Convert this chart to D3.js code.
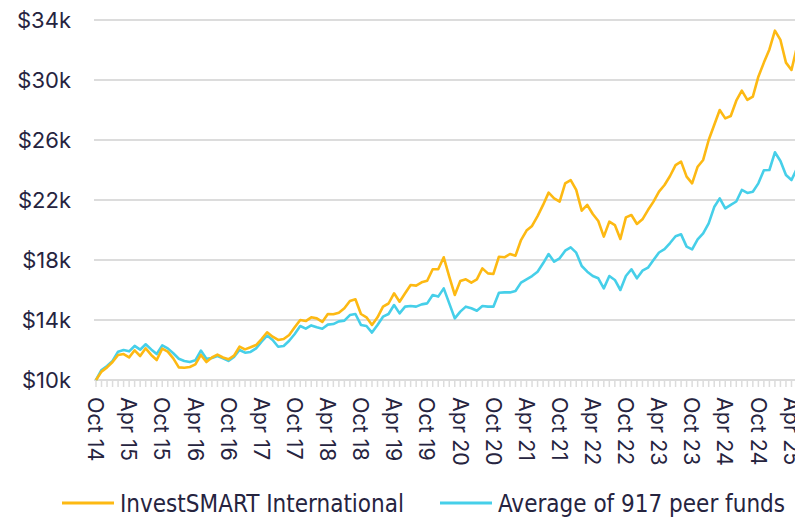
<!DOCTYPE html>
<html>
<head>
<meta charset="utf-8">
<script src="https://cdn.jsdelivr.net/npm/d3@7"></script>
<style>
  body { margin: 0; background: #fff; }
  svg { display: block; }
  .ylab { font-family: Inter, "Noto Sans", sans-serif; font-size: 22px; fill: #26243f; }
  .xlab { font-family: Inter, "Noto Sans", sans-serif; font-size: 21.5px; fill: #26243f; }
  .legend { font-family: "Liberation Sans Narrow", "DejaVu Sans Condensed", sans-serif; font-size: 24px; fill: #26243f; }
</style>
</head>
<body>
<svg id="chart" width="795" height="517"></svg>
<script>
// monthly values, Oct 14 .. May 25 (growth of $10k)
var investSmart = [10.0, 10.56, 10.84, 11.2, 11.67, 11.73, 11.51, 11.98, 11.6, 12.11,
    11.67, 11.33, 12.09, 11.89, 11.44, 10.84, 10.82, 10.87, 11.04, 11.67,
    11.2, 11.5, 11.69, 11.5, 11.38, 11.62, 12.22, 12.04, 12.18, 12.33,
    12.73, 13.18, 12.89, 12.67, 12.73, 13.0, 13.51, 14.0, 13.93, 14.18,
    14.11, 13.87, 14.4, 14.38, 14.49, 14.78, 15.27, 15.38, 14.4, 14.18,
    13.67, 14.18, 14.89, 15.1, 15.78, 15.22, 15.78, 16.33, 16.29, 16.51,
    16.62, 17.38, 17.38, 18.18, 16.89, 15.67, 16.6, 16.71, 16.49, 16.71,
    17.44, 17.11, 17.07, 18.22, 18.18, 18.4, 18.29, 19.33, 19.96, 20.27,
    20.93, 21.67, 22.49, 22.11, 21.89, 23.11, 23.33, 22.67, 21.29, 21.67,
    21.07, 20.6, 19.56, 20.56, 20.33, 19.4, 20.84, 21.0, 20.4, 20.71,
    21.33, 21.89, 22.56, 23.0, 23.6, 24.33, 24.56, 23.56, 23.11, 24.22,
    24.67, 26.0, 27.0, 28.0, 27.44, 27.6, 28.62, 29.29, 28.67, 28.89,
    30.22, 31.16, 32.04, 33.29, 32.67, 31.16, 30.67, 32.22];

var peerAverage = [10.0, 10.67, 10.93, 11.27, 11.89, 12.0, 11.91, 12.27, 12.02, 12.38,
    12.04, 11.73, 12.31, 12.11, 11.78, 11.42, 11.27, 11.2, 11.31, 11.96,
    11.42, 11.47, 11.6, 11.45, 11.27, 11.53, 12.0, 11.82, 11.87, 12.11,
    12.56, 12.96, 12.67, 12.22, 12.27, 12.62, 13.07, 13.6, 13.42, 13.64,
    13.51, 13.42, 13.69, 13.73, 13.91, 13.96, 14.33, 14.4, 13.67, 13.6,
    13.16, 13.67, 14.22, 14.4, 15.0, 14.44, 14.89, 14.93, 14.89, 15.04,
    15.11, 15.67, 15.56, 16.11, 15.11, 14.11, 14.56, 14.89, 14.78, 14.62,
    14.93, 14.89, 14.89, 15.82, 15.84, 15.84, 15.93, 16.49, 16.71, 16.93,
    17.22, 17.78, 18.4, 17.89, 18.11, 18.62, 18.84, 18.49, 17.6, 17.22,
    16.93, 16.78, 16.11, 16.93, 16.67, 16.0, 16.93, 17.38, 16.78, 17.29,
    17.49, 18.0, 18.5, 18.72, 19.13, 19.58, 19.71, 18.89, 18.71, 19.38,
    19.78, 20.44, 21.53, 22.11, 21.44, 21.68, 21.9, 22.67, 22.47, 22.55,
    23.11, 23.98, 24.0, 25.18, 24.6, 23.67, 23.33, 24.11];

var tickLabels = ["Oct 14", "Apr 15", "Oct 15", "Apr 16", "Oct 16", "Apr 17", "Oct 17",
    "Apr 18", "Oct 18", "Apr 19", "Oct 19", "Apr 20", "Oct 20", "Apr 21", "Oct 21",
    "Apr 22", "Oct 22", "Apr 23", "Oct 23", "Apr 24", "Oct 24", "Apr 25"];
var yTicks = [10, 14, 18, 22, 26, 30, 34];
var seriesNames = ["InvestSMART International", "Average of 917 peer funds"];
var seriesColors = ["#fdb913", "#46cfe9"];

var svg = d3.select("#chart");
var n = investSmart.length;

var x = d3.scaleLinear().domain([0, n - 1]).range([96, 797]);
var y = d3.scaleLinear().domain([10, 34]).range([380, 20]);

// gridlines
svg.append("g").selectAll("line")
    .data(yTicks)
    .enter().append("line")
    .attr("x1", 94).attr("x2", 795)
    .attr("y1", function(d) { return y(d); })
    .attr("y2", function(d) { return y(d); })
    .attr("stroke", "#dcdcdc")
    .attr("stroke-width", 2);

// y labels
svg.append("g").selectAll("text")
    .data(yTicks)
    .enter().append("text")
    .attr("class", "ylab")
    .attr("x", 71)
    .attr("y", function(d) { return y(d); })
    .attr("dy", "0.36em")
    .attr("text-anchor", "end")
    .text(function(d) { return "$" + d + "k"; });

// monthly minor ticks
svg.append("g").selectAll("line")
    .data(d3.range(n))
    .enter().append("line")
    .attr("x1", function(d) { return x(d); })
    .attr("x2", function(d) { return x(d); })
    .attr("y1", 380).attr("y2", 387)
    .attr("stroke", "#dcdcdc")
    .attr("stroke-width", 1.5);

// x labels, every 6 months, rotated
svg.append("g").selectAll("text")
    .data(tickLabels)
    .enter().append("text")
    .attr("class", "xlab")
    .attr("transform", function(d, i) { return "translate(" + x(i * 6) + ",397) rotate(90)"; })
    .attr("dy", "0.36em")
    .text(function(d) { return d; });

// lines
var line = d3.line()
    .x(function(d, i) { return x(i); })
    .y(function(d) { return y(d); });

[peerAverage, investSmart].forEach(function(s, k) {
    svg.append("path")
        .attr("d", line(s))
        .attr("fill", "none")
        .attr("stroke", seriesColors[1 - k])
        .attr("stroke-width", 2.6)
        .attr("stroke-linejoin", "round");
});

// legend
var legendX = [62, 440];
seriesNames.forEach(function(name, i) {
    svg.append("line")
        .attr("x1", legendX[i]).attr("x2", legendX[i] + 52)
        .attr("y1", 503).attr("y2", 503)
        .attr("stroke", seriesColors[i])
        .attr("stroke-width", 3);
    svg.append("text")
        .attr("class", "legend")
        .attr("x", legendX[i] + 58)
        .attr("y", 512)
        .text(name);
});
</script>
</body>
</html>
